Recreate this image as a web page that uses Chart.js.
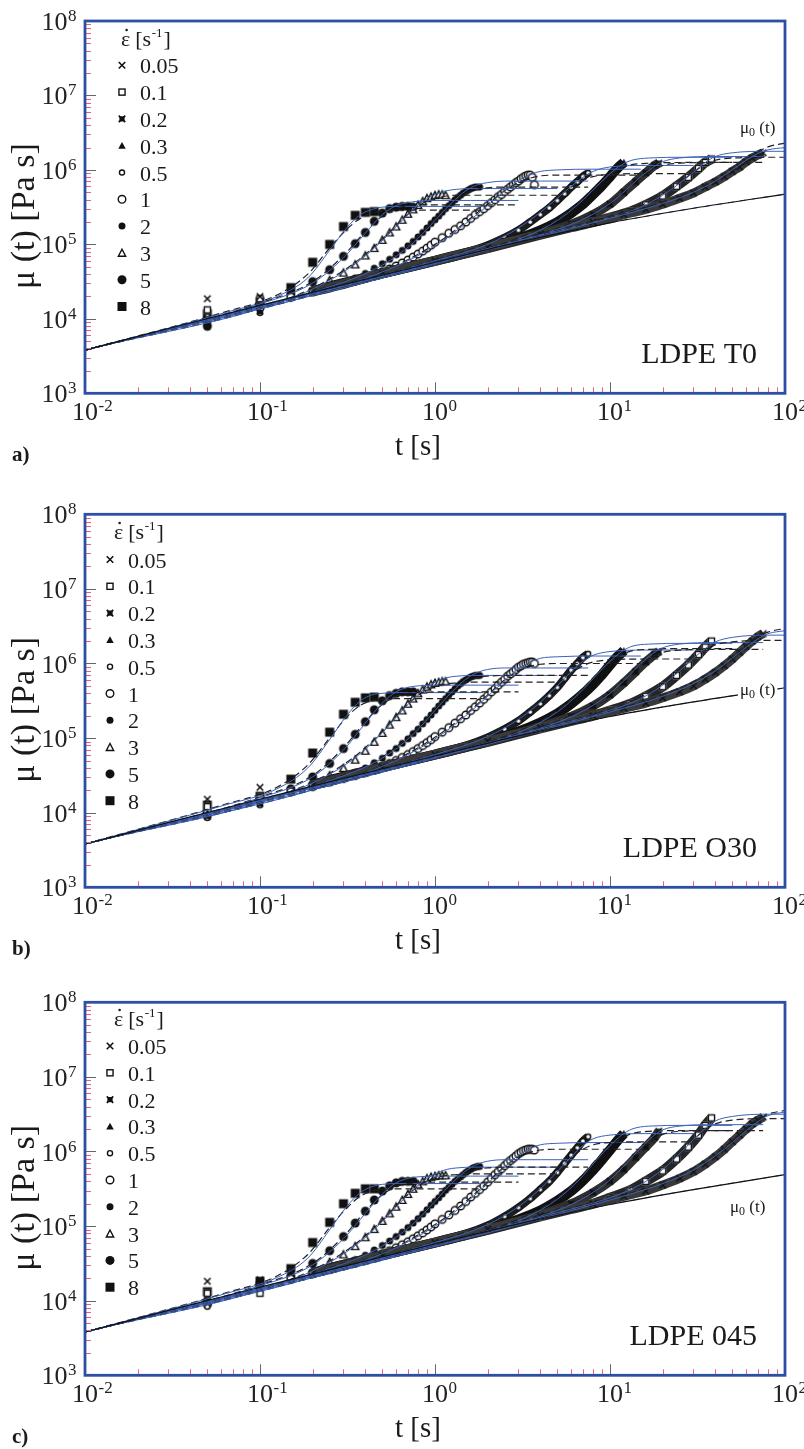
<!DOCTYPE html>
<html><head><meta charset="utf-8">
<script src="https://cdn.jsdelivr.net/npm/chart.js@4.4.1/dist/chart.umd.min.js"></script>
<style>
html,body{margin:0;padding:0;background:#fff;}
#wrap{position:relative;width:804px;height:1449px;overflow:hidden;background:#fff;}
canvas{position:absolute;left:0;}
</style></head>
<body><div id="wrap"><canvas id="ca"></canvas><canvas id="cb"></canvas><canvas id="cc"></canvas></div>
<script>
// ---------- categories ----------
const RATES = ['0.05','0.1','0.2','0.3','0.5','1','2','3','5','8'];
const MARKERS = ['x','sqO','xF','triF','cirOs','cirO','cirFs','triO','cirF','sqF'];

// ---------- sampling times of measured points (s), one list per rate ----------
const T005 = [0.05,0.1,0.2,0.5,1,2,4,8,12,16,20,25,30,35,40,45,50,55,60,65,70,75];
const T01  = [0.05,0.1,0.2,0.5,1,2,4,6,8,10,13,16,20,24,28,32,35,38];
const T02  = [0.05,0.1,0.2,0.5,1,2,3,4,6,8,10,12,14,16,18,19];
const T03  = [0.05,0.1,0.2,0.5,1,2,3,4,5,6,7,8,9,10,11,12];
const T05  = [0.05,0.1,0.2,0.3,0.5,0.7,1,1.5,2,2.5,3,3.5,4,4.5,5,5.5,6,6.5,7,7.5];
const T1   = [0.05,0.1,0.15,0.2,0.25,0.3,0.35,0.4,0.45,0.5,0.55,0.6,0.65,0.7,0.75,0.8,0.85,0.9,0.95,1.0,1.1,1.2,1.3,1.4,1.5,1.6,1.7,1.8,1.9,2.0,2.1,2.2,2.3,2.4,2.5,2.6,2.7,2.8,2.9,3.0,3.1,3.2,3.3,3.4,3.5,3.6,3.7];
const T2   = [0.05,0.1,0.15,0.2,0.25,0.3,0.35,0.4,0.45,0.5,0.55,0.6,0.65,0.7,0.75,0.8,0.85,0.9,0.95,1.0,1.05,1.1,1.15,1.2,1.25,1.3,1.35,1.4,1.45,1.5,1.55,1.6,1.65,1.7,1.75,1.8];
const T3   = [0.05,0.1,0.15,0.2,0.25,0.3,0.35,0.4,0.45,0.5,0.55,0.6,0.65,0.7,0.75,0.8,0.85,0.9,0.95,1.0,1.05,1.1,1.15];
const T5   = [0.05,0.1,0.15,0.2,0.25,0.3,0.35,0.4,0.45,0.5,0.55,0.6,0.65,0.7,0.75];
const T8   = [0.05,0.1,0.15,0.2,0.25,0.3,0.35,0.4,0.45];
const T_DATA = [T005,T01,T02,T03,T05,T1,T2,T3,T5,T8];

// ---------- times of the model curves (s) ----------
const M005 = [0.01,10,20,30,40,50,60,70,80,100];
const M01  = [0.01,5,10,15,20,25,30,35,40,50,80,100];
const M02  = [0.01,2.5,5,7.5,10,12.5,15,17.5,20,25,40,75];
const M03  = [0.01,1.667,3.333,5,6.667,8.333,10,11.67,13.33,16.67,26.67,50];
const M05  = [0.01,1,2,3,4,5,6,7,8,10,16,30];
const M1   = [0.01,0.5,1,1.5,2,2.5,3,3.5,4,5,8,15];
const M2   = [0.01,0.25,0.5,0.75,1,1.25,1.5,1.75,2,2.5,4,7.5];
const M3   = [0.01,0.167,0.333,0.5,0.667,0.833,1,1.167,1.333,1.667,2.667,5];
const M5   = [0.01,0.1,0.2,0.3,0.4,0.5,0.6,0.7,0.8,1,1.6,3];
const M8   = [0.01,0.0625,0.125,0.1875,0.25,0.3125,0.375,0.4375,0.5,0.625,1,1.875];
const T_MODEL = [M005,M01,M02,M03,M05,M1,M2,M3,M5,M8];

// ---------- linear viscoelastic envelope mu0(t): times and log10(mu / Pa s) ----------
const T_MU0 = [0.01,0.03,0.1,0.3,1,3,10,30,100];
const MU0_A = [3.58,3.87,4.18,4.46,4.76,5.03,5.29,5.485,5.675];
const MU0_B = [3.58,3.87,4.18,4.46,4.76,5.03,5.29,5.485,5.675];
const MU0_C = [3.58,3.87,4.18,4.46,4.76,5.03,5.29,5.49,5.69];

// ---------- measured log10(mu / Pa s), panel a (LDPE T0) ----------
const DATA_A = [
 [4.27,4.3,4.37,4.61,4.78,4.96,5.14,5.3,5.4,5.47,5.54,5.62,5.69,5.77,5.84,5.91,5.98,6.04,6.11,6.16,6.2,6.23],
 [4.12,4.27,4.37,4.61,4.78,4.95,5.13,5.23,5.3,5.36,5.44,5.53,5.65,5.78,5.9,6.02,6.1,6.145],
 [4.0,4.22,4.37,4.61,4.78,4.95,5.06,5.14,5.27,5.4,5.54,5.7,5.84,5.96,6.06,6.09],
 [3.95,4.1,4.37,4.61,4.78,4.96,5.08,5.19,5.3,5.42,5.54,5.67,5.79,5.91,6.02,6.1],
 [4.03,4.08,4.37,4.47,4.61,4.69,4.78,4.89,4.99,5.09,5.19,5.3,5.4,5.49,5.59,5.68,5.77,5.84,5.91,5.96],
 [3.98,4.15,4.29,4.36,4.42,4.47,4.51,4.55,4.59,4.63,4.67,4.71,4.75,4.79,4.83,4.87,4.91,4.95,4.99,5.03,5.09,5.15,5.2,5.25,5.3,5.35,5.4,5.44,5.48,5.52,5.56,5.6,5.64,5.67,5.71,5.74,5.77,5.8,5.83,5.85,5.88,5.9,5.92,5.93,5.93,5.9,5.8],
 [3.92,4.12,4.29,4.37,4.43,4.49,4.55,4.61,4.68,4.74,4.8,4.86,4.92,4.98,5.04,5.1,5.16,5.22,5.28,5.33,5.38,5.43,5.48,5.52,5.56,5.6,5.63,5.66,5.69,5.71,5.73,5.75,5.76,5.77,5.77,5.77],
 [4.05,4.18,4.3,4.41,4.52,4.62,4.73,4.85,4.95,5.06,5.16,5.24,5.33,5.41,5.47,5.53,5.58,5.62,5.64,5.66,5.67,5.67,5.66],
 [3.9,4.2,4.33,4.5,4.66,4.84,5.01,5.16,5.31,5.42,5.48,5.5,5.51,5.51,5.5],
 [4.07,4.23,4.42,4.76,5.0,5.24,5.39,5.43,5.44]
];
const BLUE_A = [
 [3.58,5.35,5.55,5.7,5.85,6.0,6.13,6.22,6.27,6.3],
 [3.58,5.18,5.36,5.5,5.66,5.82,5.97,6.1,6.18,6.23,6.25,6.25],
 [3.58,5.0,5.2,5.37,5.55,5.74,5.91,6.03,6.11,6.16,6.18,6.18],
 [3.58,4.88,5.11,5.32,5.55,5.77,5.95,6.07,6.13,6.16,6.17,6.17],
 [3.58,4.78,5.0,5.22,5.43,5.62,5.78,5.9,5.98,6.04,6.06,6.06],
 [3.58,4.63,4.98,5.28,5.52,5.72,5.86,5.94,5.98,6.0,6.01,6.01],
 [3.58,4.43,4.72,5.02,5.32,5.56,5.72,5.8,5.83,5.85,5.85,5.85],
 [3.58,4.32,4.7,5.05,5.35,5.56,5.67,5.72,5.74,5.75,5.75,5.75],
 [3.58,4.2,4.48,4.82,5.15,5.4,5.52,5.56,5.58,5.59,5.59,5.59],
 [3.58,4.08,4.3,4.55,4.92,5.22,5.4,5.47,5.5,5.51,5.51,5.51]
];
const DASH_A = [
 [3.58,5.36,5.57,5.73,5.88,6.03,6.15,6.24,6.31,6.36],
 [3.58,5.19,5.38,5.52,5.68,5.83,5.97,6.07,6.13,6.16,6.17,6.17],
 [3.58,5.01,5.22,5.39,5.57,5.75,5.9,6.0,6.06,6.09,6.1,6.1],
 [3.58,4.89,5.13,5.34,5.57,5.78,5.94,6.03,6.07,6.09,6.1,6.1],
 [3.58,4.79,5.02,5.24,5.45,5.63,5.77,5.86,5.91,5.94,5.95,5.95],
 [3.58,4.64,5.0,5.3,5.54,5.72,5.83,5.89,5.92,5.93,5.93,5.93],
 [3.58,4.44,4.74,5.05,5.34,5.56,5.68,5.74,5.76,5.77,5.77,5.77],
 [3.58,4.33,4.72,5.07,5.36,5.54,5.62,5.65,5.66,5.66,5.66,5.66],
 [3.58,4.21,4.5,4.85,5.17,5.38,5.48,5.52,5.53,5.53,5.53,5.53],
 [3.58,4.09,4.32,4.6,4.95,5.2,5.35,5.42,5.45,5.46,5.46,5.46]
];

// ---------- panel b (LDPE O30) ----------
const DATA_B = [
 [4.18,4.34,4.37,4.61,4.78,4.96,5.14,5.3,5.4,5.47,5.54,5.62,5.7,5.79,5.88,5.97,6.06,6.15,6.23,6.3,6.36,6.4],
 [4.08,4.2,4.37,4.61,4.78,4.95,5.13,5.23,5.3,5.37,5.46,5.56,5.69,5.84,5.98,6.12,6.22,6.3],
 [3.95,4.22,4.37,4.61,4.78,4.95,5.06,5.15,5.29,5.43,5.58,5.74,5.89,6.02,6.12,6.16],
 [4.0,4.12,4.37,4.61,4.78,4.96,5.09,5.21,5.33,5.46,5.59,5.72,5.85,5.98,6.09,6.17],
 [3.93,4.1,4.37,4.47,4.61,4.69,4.78,4.9,5.01,5.12,5.23,5.35,5.46,5.57,5.68,5.8,5.91,6.0,6.08,6.13],
 [4.02,4.17,4.28,4.35,4.41,4.46,4.5,4.54,4.58,4.62,4.66,4.7,4.74,4.78,4.82,4.86,4.9,4.94,4.98,5.02,5.08,5.14,5.2,5.26,5.31,5.37,5.42,5.47,5.52,5.57,5.62,5.66,5.71,5.75,5.79,5.83,5.86,5.89,5.92,5.95,5.97,5.99,6.0,6.01,6.02,6.02,6.0],
 [3.98,4.15,4.28,4.36,4.42,4.48,4.54,4.6,4.67,4.73,4.8,4.86,4.93,4.99,5.06,5.12,5.19,5.25,5.31,5.37,5.43,5.48,5.53,5.58,5.62,5.66,5.7,5.73,5.76,5.78,5.8,5.82,5.83,5.84,5.84,5.84],
 [4.05,4.2,4.29,4.4,4.5,4.6,4.71,4.83,4.95,5.07,5.18,5.28,5.37,5.46,5.53,5.6,5.65,5.69,5.72,5.74,5.75,5.76,5.76],
 [3.96,4.18,4.32,4.48,4.66,4.86,5.05,5.22,5.38,5.5,5.57,5.6,5.62,5.62,5.62],
 [4.1,4.22,4.45,4.8,5.08,5.32,5.48,5.54,5.55]
];
const BLUE_B = [
 [3.58,5.35,5.56,5.73,5.9,6.07,6.22,6.33,6.4,6.44],
 [3.58,5.18,5.37,5.53,5.71,5.9,6.07,6.2,6.29,6.35,6.38,6.38],
 [3.58,5.0,5.21,5.4,5.6,5.81,6.0,6.13,6.21,6.26,6.28,6.28],
 [3.58,4.88,5.12,5.35,5.6,5.84,6.03,6.16,6.23,6.26,6.27,6.27],
 [3.58,4.78,5.02,5.25,5.48,5.7,5.89,6.03,6.11,6.16,6.18,6.18],
 [3.58,4.62,4.99,5.3,5.56,5.77,5.93,6.02,6.07,6.09,6.1,6.1],
 [3.58,4.43,4.73,5.05,5.37,5.62,5.79,5.88,5.92,5.94,5.94,5.94],
 [3.58,4.32,4.7,5.07,5.4,5.62,5.75,5.81,5.83,5.84,5.84,5.84],
 [3.58,4.2,4.48,4.84,5.2,5.47,5.62,5.68,5.7,5.71,5.71,5.71],
 [3.58,4.1,4.32,4.6,4.98,5.3,5.5,5.58,5.6,5.61,5.61,5.61]
];
const DASH_B = [
 [3.58,5.36,5.58,5.76,5.93,6.1,6.24,6.35,6.42,6.47],
 [3.58,5.19,5.39,5.55,5.73,5.91,6.07,6.18,6.25,6.29,6.31,6.31],
 [3.58,5.01,5.23,5.42,5.62,5.82,5.99,6.09,6.15,6.18,6.19,6.19],
 [3.58,4.89,5.14,5.37,5.62,5.85,6.02,6.12,6.17,6.19,6.2,6.2],
 [3.58,4.79,5.04,5.27,5.5,5.71,5.87,5.97,6.02,6.05,6.06,6.06],
 [3.58,4.63,5.01,5.32,5.58,5.78,5.9,5.96,5.99,6.0,6.0,6.0],
 [3.58,4.44,4.75,5.08,5.39,5.62,5.75,5.81,5.83,5.84,5.84,5.84],
 [3.58,4.33,4.72,5.09,5.41,5.6,5.69,5.73,5.74,5.75,5.75,5.75],
 [3.58,4.21,4.5,4.87,5.22,5.45,5.56,5.6,5.61,5.62,5.62,5.62],
 [3.58,4.11,4.34,4.64,5.0,5.28,5.44,5.5,5.52,5.53,5.53,5.53]
];

// ---------- panel c (LDPE 045) ----------
const DATA_C = [
 [4.26,4.28,4.37,4.61,4.78,4.96,5.14,5.3,5.4,5.47,5.55,5.64,5.73,5.83,5.93,6.03,6.13,6.22,6.3,6.37,6.42,6.46],
 [4.1,4.1,4.37,4.61,4.78,4.95,5.13,5.23,5.3,5.38,5.48,5.6,5.74,5.9,6.06,6.22,6.35,6.45],
 [3.98,4.2,4.37,4.61,4.78,4.95,5.06,5.15,5.3,5.45,5.6,5.76,5.92,6.06,6.19,6.27],
 [4.0,4.15,4.37,4.61,4.78,4.96,5.09,5.21,5.34,5.47,5.61,5.75,5.89,6.02,6.14,6.24],
 [3.92,4.12,4.37,4.47,4.61,4.69,4.78,4.9,5.01,5.13,5.25,5.37,5.49,5.6,5.72,5.84,5.95,6.05,6.14,6.2],
 [3.95,4.18,4.29,4.36,4.42,4.47,4.51,4.55,4.59,4.63,4.67,4.71,4.75,4.79,4.83,4.87,4.91,4.95,4.99,5.03,5.09,5.15,5.21,5.27,5.33,5.39,5.44,5.49,5.54,5.59,5.64,5.69,5.73,5.77,5.81,5.85,5.88,5.91,5.94,5.97,5.99,6.01,6.02,6.03,6.03,6.03,6.02],
 [4.02,4.22,4.29,4.37,4.43,4.49,4.55,4.61,4.68,4.74,4.8,4.86,4.92,4.98,5.04,5.1,5.16,5.22,5.28,5.33,5.38,5.43,5.48,5.52,5.56,5.6,5.63,5.66,5.69,5.72,5.74,5.76,5.78,5.79,5.8,5.8],
 [4.05,4.2,4.3,4.41,4.52,4.62,4.73,4.85,4.96,5.07,5.17,5.26,5.35,5.43,5.5,5.56,5.6,5.64,5.66,5.67,5.68,5.68,5.68],
 [3.97,4.24,4.33,4.5,4.67,4.86,5.04,5.2,5.35,5.47,5.54,5.58,5.6,5.6,5.6],
 [4.12,4.26,4.43,4.78,5.05,5.3,5.44,5.5,5.5]
];
const BLUE_C = [
 [3.58,5.35,5.57,5.75,5.94,6.12,6.28,6.4,6.48,6.53],
 [3.58,5.18,5.38,5.56,5.76,5.97,6.16,6.31,6.41,6.47,6.5,6.5],
 [3.58,5.0,5.21,5.41,5.62,5.85,6.05,6.2,6.29,6.34,6.36,6.36],
 [3.58,4.88,5.12,5.36,5.62,5.88,6.08,6.22,6.3,6.34,6.35,6.35],
 [3.58,4.78,5.02,5.26,5.5,5.73,5.93,6.08,6.17,6.22,6.24,6.24],
 [3.58,4.63,5.0,5.31,5.57,5.79,5.95,6.04,6.09,6.11,6.12,6.12],
 [3.58,4.43,4.73,5.03,5.33,5.58,5.74,5.83,5.87,5.89,5.89,5.89],
 [3.58,4.32,4.7,5.06,5.37,5.58,5.7,5.76,5.78,5.79,5.79,5.79],
 [3.58,4.2,4.48,4.83,5.17,5.43,5.58,5.64,5.66,5.67,5.67,5.67],
 [3.58,4.09,4.31,4.57,4.95,5.26,5.45,5.53,5.56,5.57,5.57,5.57]
];
const DASH_C = [
 [3.58,5.36,5.59,5.78,5.97,6.15,6.31,6.42,6.5,6.55],
 [3.58,5.19,5.4,5.58,5.78,5.98,6.16,6.29,6.37,6.42,6.44,6.44],
 [3.58,5.01,5.23,5.43,5.64,5.86,6.04,6.16,6.23,6.27,6.28,6.28],
 [3.58,4.89,5.14,5.38,5.64,5.89,6.07,6.18,6.24,6.27,6.28,6.28],
 [3.58,4.79,5.04,5.28,5.52,5.74,5.92,6.03,6.09,6.12,6.13,6.13],
 [3.58,4.64,5.02,5.33,5.59,5.8,5.93,5.99,6.02,6.03,6.03,6.03],
 [3.58,4.44,4.75,5.06,5.35,5.57,5.7,5.76,5.78,5.79,5.79,5.79],
 [3.58,4.33,4.72,5.08,5.38,5.56,5.65,5.68,5.69,5.7,5.7,5.7],
 [3.58,4.21,4.5,4.86,5.2,5.42,5.53,5.57,5.58,5.59,5.59,5.59],
 [3.58,4.1,4.33,4.62,4.98,5.24,5.4,5.47,5.49,5.5,5.5,5.5]
];

// ---------- axis ticks ----------
const X_EXP = [-2,-1,0,1,2];
const Y_EXP = [3,4,5,6,7,8];
const MINOR_MULT = [2,3,4,5,6,7,8,9];

// ---------- styling ----------
const FONT = "'Liberation Serif','Times New Roman',serif";
const FRAME = '#2c4fa5';
const BLUE = '#3c62b8';
const MINOR_C = '#f0606e';
const MAJOR_C = '#666';

function drawMk(g, type, s) {
  const r = s / 2;
  g.save();
  g.strokeStyle = '#111'; g.fillStyle = '#111'; g.lineWidth = 1.4;
  g.beginPath();
  switch (type) {
    case 'x':
      g.lineWidth = 1.6;
      g.moveTo(-r, -r); g.lineTo(r, r); g.moveTo(r, -r); g.lineTo(-r, r); g.stroke(); break;
    case 'xF':
      g.fillRect(-r * 0.8, -r * 0.8, s * 0.8, s * 0.8);
      g.lineWidth = 1.6;
      g.moveTo(-r, -r); g.lineTo(r, r); g.moveTo(r, -r); g.lineTo(-r, r); g.stroke(); break;
    case 'sqO':
      g.fillStyle = '#fff'; g.fillRect(-r, -r, s, s);
      g.strokeRect(-r + 0.7, -r + 0.7, s - 1.4, s - 1.4); break;
    case 'sqF':
      g.fillRect(-r, -r, s, s); break;
    case 'triF':
      g.moveTo(0, -r); g.lineTo(r, r * 0.8); g.lineTo(-r, r * 0.8); g.closePath(); g.fill(); break;
    case 'triO':
      g.fillStyle = '#fff';
      g.moveTo(0, -r + 0.6); g.lineTo(r - 0.6, r * 0.8); g.lineTo(-r + 0.6, r * 0.8); g.closePath(); g.fill(); g.stroke(); break;
    case 'cirO': case 'cirOs':
      g.fillStyle = '#fff';
      g.arc(0, 0, r - 0.7, 0, Math.PI * 2); g.fill(); g.stroke(); break;
    case 'cirF': case 'cirFs':
      g.arc(0, 0, r, 0, Math.PI * 2); g.fill(); break;
  }
  g.restore();
}
const MK_SIZE = {x: 6.5, sqO: 7.5, xF: 6.5, triF: 7.5, cirOs: 6.5, cirO: 9, cirFs: 7, triO: 8.5, cirF: 9, sqF: 9};
const MK_IMG = {};
for (const k of Object.keys(MK_SIZE)) {
  const s = MK_SIZE[k], S = Math.ceil(s + 3);
  const c = document.createElement('canvas'); c.width = S; c.height = S;
  const g = c.getContext('2d'); g.translate(S / 2, S / 2); drawMk(g, k, s);
  MK_IMG[k] = c;
}
// dense series are drawn as a band of overlapping markers; width / grey of the band
const BAND_W = [9, 10, 9, 10, 8, 0, 0, 0, 0, 0];
const BAND_C = ['#3a3a3a', '#262626', '#303030', '#111', '#1c1c1c', '', '', '', '', ''];

const PANELS = [
  {id: 'ca', top: 0, h: 490, pTop: 21, pBot: 393.3, tag: 'a)', name: 'LDPE T0',
   data: DATA_A, blue: BLUE_A, dash: DASH_A, mu0: MU0_A,
   mu0Lab: {x: 740, y: 133, box: false}, leg: {mx: 122, tx: 140, hx: 121, hy: 46, y0: 65.3}},
  {id: 'cb', top: 490, h: 490, pTop: 514.3, pBot: 887.3, tag: 'b)', name: 'LDPE O30',
   data: DATA_B, blue: BLUE_B, dash: DASH_B, mu0: MU0_B,
   mu0Lab: {x: 740, y: 695, box: true}, leg: {mx: 110, tx: 128, hx: 114, hy: 539, y0: 559.5}},
  {id: 'cc', top: 980, h: 469, pTop: 1002.3, pBot: 1375.3, tag: 'c)', name: 'LDPE 045',
   data: DATA_C, blue: BLUE_C, dash: DASH_C, mu0: MU0_C,
   mu0Lab: {x: 730, y: 1212, box: false}, leg: {mx: 110, tx: 128, hx: 114, hy: 1026, y0: 1046}}
];

function pts(ts, logs) {
  const n = Math.min(ts.length, logs.length), out = [];
  for (let i = 0; i < n; i++) out.push({x: ts[i], y: Math.pow(10, logs[i])});
  return out;
}

function drawPow(ctx, exp, x, yBase, align) {
  const base = '10', e = String(exp);
  ctx.font = '26px ' + FONT; const wb = ctx.measureText(base).width;
  ctx.font = '17px ' + FONT; const we = ctx.measureText(e).width;
  let x0;
  if (align === 'right') x0 = x - wb - we - 1;
  else x0 = x - wb / 2;
  ctx.textAlign = 'left'; ctx.textBaseline = 'alphabetic';
  ctx.font = '26px ' + FONT; ctx.fillText(base, x0, yBase);
  ctx.font = '17px ' + FONT; ctx.fillText(e, x0 + wb + 0.5, yBase - 9);
}

const decor = {
  id: 'decor',
  afterDraw(chart, args, opts) {
    const p = opts.panel, off = p.top;
    const {ctx, chartArea: a, scales: {x, y}} = chart;
    ctx.save();
    // minor + major ticks
    ctx.lineWidth = 1;
    for (let i = 0; i < X_EXP.length; i++) {
      const e = X_EXP[i];
      if (i < X_EXP.length - 1) {
        for (const m of MINOR_MULT) {
          const px = Math.round(x.getPixelForValue(m * Math.pow(10, e))) + 0.5;
          ctx.strokeStyle = MINOR_C; ctx.beginPath(); ctx.moveTo(px, a.bottom); ctx.lineTo(px, a.bottom - 6); ctx.stroke();
        }
      }
      const px = Math.round(x.getPixelForValue(Math.pow(10, e))) + 0.5;
      ctx.strokeStyle = MAJOR_C; ctx.beginPath(); ctx.moveTo(px, a.bottom); ctx.lineTo(px, a.bottom - 11); ctx.stroke();
    }
    for (let i = 0; i < Y_EXP.length; i++) {
      const e = Y_EXP[i];
      if (i < Y_EXP.length - 1) {
        for (const m of MINOR_MULT) {
          const py = Math.round(y.getPixelForValue(m * Math.pow(10, e))) + 0.5;
          ctx.strokeStyle = MINOR_C; ctx.beginPath(); ctx.moveTo(a.left, py); ctx.lineTo(a.left + 6, py); ctx.stroke();
        }
      }
      const py = Math.round(y.getPixelForValue(Math.pow(10, e))) + 0.5;
      ctx.strokeStyle = MAJOR_C; ctx.beginPath(); ctx.moveTo(a.left, py); ctx.lineTo(a.left + 11, py); ctx.stroke();
    }
    // frame
    ctx.strokeStyle = FRAME; ctx.lineWidth = 2.8;
    ctx.strokeRect(a.left, a.top, a.right - a.left, a.bottom - a.top);
    // tick labels
    ctx.fillStyle = '#222';
    for (const e of X_EXP) drawPow(ctx, e, x.getPixelForValue(Math.pow(10, e)), a.bottom + 27, 'center');
    for (const e of Y_EXP) drawPow(ctx, e, 77, y.getPixelForValue(Math.pow(10, e)) + 9, 'right');
    // axis titles
    ctx.fillStyle = '#1a1a1a';
    ctx.font = '29px ' + FONT; ctx.textAlign = 'center';
    ctx.fillText('t [s]', 418, a.bottom + 62);
    ctx.save();
    ctx.translate(34, (a.top + a.bottom) / 2 + 9);
    ctx.rotate(-Math.PI / 2);
    ctx.font = '34px ' + FONT;
    ctx.fillText('\u03bc (t) [Pa s]', 0, 0);
    ctx.restore();
    // panel tag
    ctx.font = 'bold 21px ' + FONT; ctx.textAlign = 'left';
    ctx.fillText(p.tag, 12, a.bottom + 68);
    // sample name
    ctx.font = '30px ' + FONT; ctx.textAlign = 'right';
    ctx.fillText(p.name, 757, a.bottom - 30);
    // mu0 label
    const L = p.mu0Lab, ly = L.y - off;
    ctx.font = '17px ' + FONT; ctx.textAlign = 'left';
    const w1 = ctx.measureText('\u03bc').width;
    ctx.font = '12px ' + FONT; const w2 = ctx.measureText('0').width;
    ctx.font = '17px ' + FONT; const w3 = ctx.measureText(' (t)').width;
    if (L.box) { ctx.fillStyle = '#fff'; ctx.fillRect(L.x - 2, ly - 14, w1 + w2 + w3 + 4, 19); }
    ctx.fillStyle = '#1a1a1a';
    ctx.fillText('\u03bc', L.x, ly);
    ctx.font = '12px ' + FONT; ctx.fillText('0', L.x + w1, ly + 3);
    ctx.font = '17px ' + FONT; ctx.fillText(' (t)', L.x + w1 + w2, ly);
    // legend
    const G = p.leg;
    ctx.font = '22px ' + FONT; ctx.textAlign = 'left';
    let hx = G.hx; const hy = G.hy - off;
    ctx.fillText('\u03b5', hx, hy);
    const we = ctx.measureText('\u03b5').width;
    ctx.beginPath(); ctx.arc(hx + we / 2 + 1, hy - 16, 1.3, 0, Math.PI * 2); ctx.fill();
    hx += we + 5;
    ctx.fillText('[s', hx, hy); hx += ctx.measureText('[s').width;
    ctx.font = '13px ' + FONT; ctx.fillText('-1', hx + 0.5, hy - 9); hx += ctx.measureText('-1').width + 1.5;
    ctx.font = '22px ' + FONT; ctx.fillText(']', hx, hy);
    for (let k = 0; k < RATES.length; k++) {
      const ry = G.y0 - off + k * 26.8;
      ctx.save(); ctx.translate(G.mx, ry); drawMk(ctx, MARKERS[k], MK_SIZE[MARKERS[k]]); ctx.restore();
      ctx.fillStyle = '#1a1a1a'; ctx.font = '22px ' + FONT;
      ctx.fillText(RATES[k], G.tx, ry + 8);
    }
    ctx.restore();
  }
};

function build(p) {
  const cv = document.getElementById(p.id);
  cv.width = 804; cv.height = p.h; cv.style.top = p.top + 'px';
  cv.style.width = '804px'; cv.style.height = p.h + 'px';
  const ds = [];
  for (let k = 0; k < RATES.length; k++) {
    ds.push({type: 'line', data: pts(T_MODEL[k], p.blue[k]), borderColor: BLUE, borderWidth: 1,
      pointRadius: 0, cubicInterpolationMode: 'monotone', order: 1});
    ds.push({type: 'line', data: pts(T_MODEL[k], p.dash[k]), borderColor: '#222', borderWidth: 1.2,
      borderDash: [7, 4], pointRadius: 0, cubicInterpolationMode: 'monotone', order: 1});
  }
  ds.push({type: 'line', data: pts(T_MU0, p.mu0), borderColor: '#111', borderWidth: 1.2, pointRadius: 0,
    cubicInterpolationMode: 'monotone', order: 0});
  ds.push({type: 'line', data: pts(T_MU0, p.mu0), borderColor: BLUE, borderWidth: 1, borderDash: [6, 6],
    pointRadius: 0, cubicInterpolationMode: 'monotone', order: 0});
  for (let k = 0; k < RATES.length; k++) {
    const band = BAND_W[k] > 0;
    ds.push({type: 'line', data: pts(T_DATA[k], p.data[k]), showLine: band,
      borderColor: BAND_C[k] || '#111', borderWidth: BAND_W[k] || 0,
      segment: band ? {borderColor: c => (c.p0.parsed.x < 0.15 ? 'rgba(0,0,0,0)' : BAND_C[k])} : undefined,
      pointStyle: MK_IMG[MARKERS[k]], pointRadius: 4, tension: 0.3, order: 2});
  }
  return new Chart(cv, {
    data: {datasets: ds},
    options: {
      responsive: false, animation: false, devicePixelRatio: 1,
      layout: {padding: {left: 85, right: 19, top: p.pTop - p.top, bottom: p.top + p.h - p.pBot}},
      plugins: {legend: {display: false}, tooltip: {enabled: false}, decor: {panel: p}},
      scales: {
        x: {type: 'logarithmic', min: 0.01, max: 100, ticks: {display: false}, grid: {display: false},
            border: {display: false}, afterFit(s) { s.height = 0; }},
        y: {type: 'logarithmic', min: 1000, max: 1e8, ticks: {display: false}, grid: {display: false},
            border: {display: false}, afterFit(s) { s.width = 0; }}
      }
    },
    plugins: [decor]
  });
}
PANELS.forEach(build);
</script>
</body></html>
